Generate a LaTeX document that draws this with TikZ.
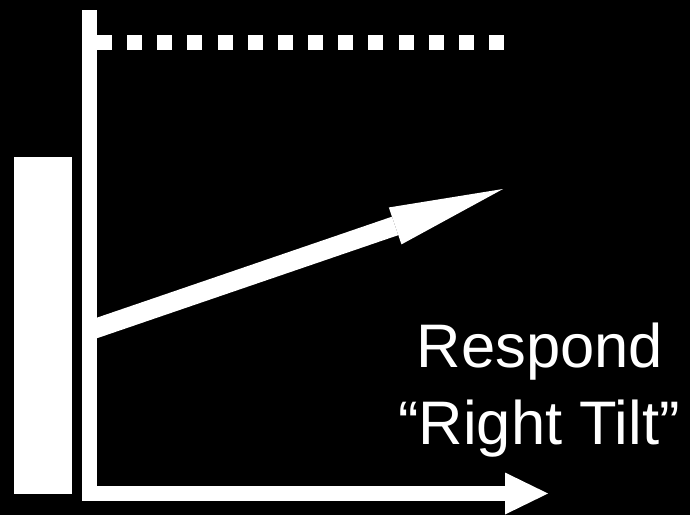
\documentclass[tikz,border=0pt]{standalone}
\usepackage{fontspec}
\setmainfont{Liberation Sans}
\usepackage{tikz}
\usetikzlibrary{arrows.meta}
\tikzset{
  axisline/.style={draw=white, line width=15pt, -{Triangle[length=43pt, width=42pt, line width=0pt]}},
  bar/.style={fill=white},
  dots/.style={draw=white, line width=15pt, dash pattern=on 15pt off 15.15pt},
  tilt/.style={draw=white, line width=19.5pt, -{Triangle[length=114pt, width=39pt, line width=0pt]}},
  label/.style={text=white, font=\fontsize{61.5}{77}\selectfont, inner sep=0pt, anchor=base},
}
\begin{document}
\begin{tikzpicture}[x=1pt, y=-1pt]
\fill[black] (0,0) rectangle (690,515);
\useasboundingbox (0,0) rectangle (690,515);
\fill[bar] (14,157) rectangle (72,494);
\coordinate (top) at (89.5,10);
\coordinate (origin) at (89.5,493.5);
\coordinate (xend) at (548,493.5);
\coordinate (tiltstart) at (89.5,330.5);
\coordinate (tiltend) at (503,189);
\coordinate (levelstart) at (97,42.5);
\coordinate (levelend) at (505,42.5);
\draw[tilt] (tiltstart) -- (tiltend);
\draw[axisline] (top) -- (origin) -- (xend);
\draw[dots] (levelstart) -- (levelend);
\node[label] (respond) at (540,367) {Respond};
\node[label] (righttilt) at (539,444) {“Right Tilt”};
\end{tikzpicture}
\end{document}
